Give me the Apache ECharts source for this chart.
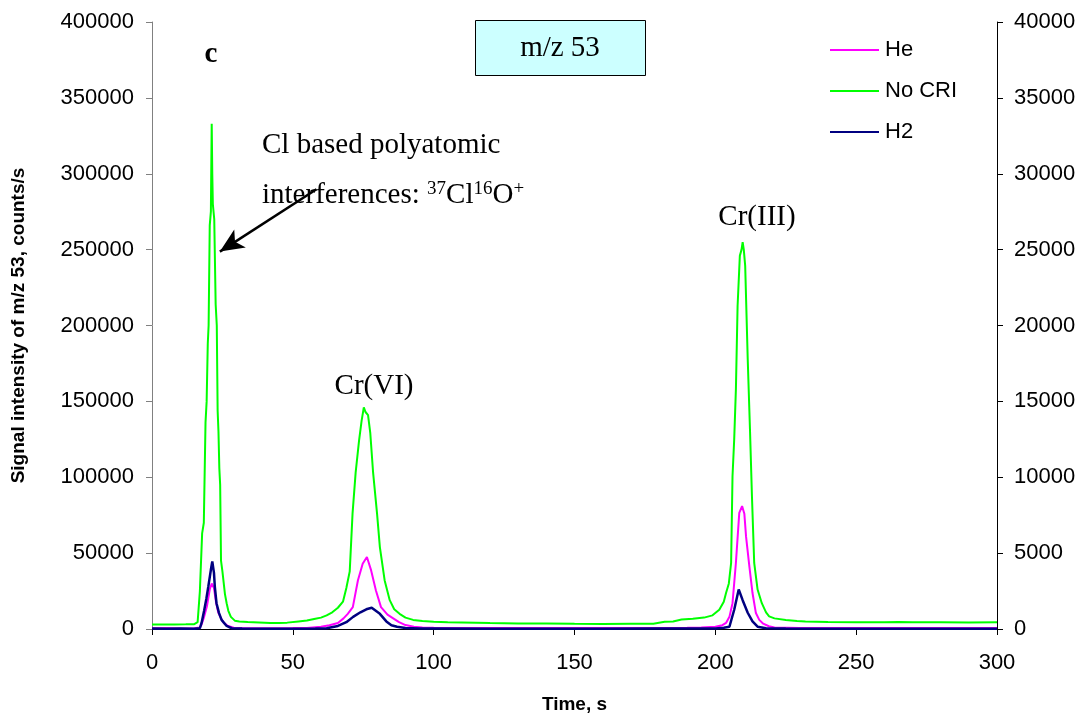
<!DOCTYPE html>
<html>
<head>
<meta charset="utf-8">
<script src="https://cdn.jsdelivr.net/npm/echarts@6/dist/echarts.min.js"></script>
<style>
html,body{margin:0;padding:0;background:#fff;}
#chart{width:1090px;height:721px;}
</style>
</head>
<body>
<div id="chart"></div>
<script>
// Tick values
const xTicks = [0, 50, 100, 150, 200, 250, 300];
const leftTicks = [0, 50000, 100000, 150000, 200000, 250000, 300000, 350000, 400000];
const rightTicks = [0, 5000, 10000, 15000, 20000, 25000, 30000, 35000, 40000];
const legendNames = ['He', 'No CRI', 'H2'];

// No CRI (left axis) [time s, counts/s]
const noCRI = [
  [0,3000],[4,2900],[8,3000],[12,3100],[15,3200],[16.2,4500],[17,25000],[17.8,63000],[18.4,70000],[19.0,136000],
  [19.4,150000],[19.8,188000],[20.1,200000],[20.5,266000],[20.9,275000],[21.2,333000],[21.4,300000],[21.6,280000],
  [22.1,270000],[22.6,214000],[23.0,200000],[23.3,144000],[23.6,130000],[23.9,106000],[24.2,95000],[24.5,45000],
  [25.0,38000],[25.9,23000],[26.5,17000],[27.1,12000],[28.0,8000],[29.4,5500],[31,5000],[34,4600],[38,4300],
  [42,4000],[45,3900],[48,4200],[52,5000],[55,5600],[58,6800],[60,7500],[62,9000],[64,11000],[66,14000],
  [67.8,18000],[69,27000],[70.2,38000],[71.2,76000],[72.3,103000],[73.5,124000],[74.4,137000],[75.2,146000],
  [75.8,143000],[76.7,141000],[77.5,129000],[78.5,103000],[79.9,76000],[80.9,54000],[82.6,32000],[84.4,19000],
  [86,13000],[87.9,10000],[90,7500],[92.7,6000],[96,5300],[100,4800],[105,4500],[110,4300],[115,4100],[120,3900],
  [125,3800],[130,3700],[140,3600],[150,3400],[160,3300],[170,3400],[178,3500],[182,4800],[185,5000],[188,6200],
  [192,6800],[196,7500],[199,9000],[201.4,12700],[203,18000],[203.8,23700],[204.8,30000],[205.6,43500],
  [206.1,100700],[206.7,125000],[207.3,157900],[207.9,212900],[208.7,245900],[209.3,250000],[209.7,255000],
  [210.1,250000],[210.6,239300],[211.5,177700],[212.3,131500],[213,87500],[213.8,43500],[215,26000],[216.5,17000],
  [218,11000],[219.1,8300],[221,7000],[225,6000],[229,5300],[232,5000],[240,4600],[250,4400],[260,4400],
  [265,4600],[270,4400],[280,4400],[290,4300],[300,4400]
];

// He (right axis) [time s, counts/s]
const he = [
  [0,50],[5,60],[10,40],[15,50],[17,100],[17.6,300],[18.5,800],[19.5,1500],[20.5,2600],[21.2,3000],[22,2700],
  [22.7,1800],[23.5,1100],[24.5,700],[25.5,400],[27,200],[29,80],[32,60],[40,50],[50,60],[55,70],[60,150],
  [63,250],[66,400],[68,700],[69.5,1000],[71.3,1440],[73.1,3200],[74.8,4300],[76.3,4740],[77.8,3860],[79.5,2540],
  [81.3,1440],[83.6,950],[85.5,720],[87.7,450],[90,260],[93,150],[96,100],[100,80],[110,70],[120,60],[140,60],
  [160,60],[180,70],[190,80],[195,100],[200,150],[202.5,250],[203.8,400],[205,800],[206.1,1700],[207.3,4350],
  [208.5,7650],[209.5,8100],[210.3,7600],[210.9,6100],[212.1,4100],[213.2,2370],[214.4,1050],[215.6,600],
  [217,350],[219,180],[221,100],[230,70],[250,60],[270,60],[290,60],[300,60]
];

// H2 (right axis) [time s, counts/s]
const h2 = [
  [0,30],[5,20],[10,30],[15,20],[17,50],[17.6,400],[18.5,1200],[19.3,2000],[20.0,2800],[20.9,3900],[21.4,4450],
  [22.0,3700],[22.3,2800],[22.9,1700],[23.8,1050],[24.7,600],[26.5,200],[28.3,50],[32,30],[40,20],[50,20],
  [58,30],[62,50],[66,200],[69,450],[71.4,800],[74,1100],[76.1,1300],[78,1400],[80.9,1000],[83.2,500],[85,250],
  [87,150],[90,60],[95,30],[100,30],[120,20],[140,20],[160,20],[180,30],[195,30],[200,40],[203,80],[205,150],
  [206.7,1270],[208.3,2600],[209.7,1900],[211.5,1070],[213.2,500],[215,150],[218,50],[225,30],[250,20],
  [275,20],[300,20]
];

// Arrow annotation endpoints [time s, counts/s]
const arrowFrom = [58.4, 289800];
const arrowTo = [24.1, 248700];

const chart = echarts.init(document.getElementById('chart'), null, {renderer: 'canvas'});
const sans = 'Liberation Sans, Arial, sans-serif';
const serif = 'Liberation Serif, Times New Roman, serif';
const fmt = v => String(v);

const option = {
  animation: false,
  backgroundColor: '#ffffff',
  grid: {left: 152, right: 93, top: 22, bottom: 92, containLabel: false},
  legend: {
    data: legendNames,
    orient: 'vertical',
    left: 830,
    top: 39,
    itemWidth: 49,
    itemHeight: 2,
    itemGap: 19,
    icon: 'rect',
    padding: 0,
    textStyle: {fontFamily: sans, fontSize: 22, color: '#000', lineHeight: 22, padding: [0,0,0,1]}
  },
  xAxis: {
    type: 'value', min: xTicks[0], max: xTicks[xTicks.length - 1], interval: 50,
    name: 'Time, s', nameLocation: 'middle', nameGap: 66,
    nameTextStyle: {fontFamily: sans, fontSize: 19, fontWeight: 'bold', color: '#000'},
    axisLine: {show: true, onZero: false, lineStyle: {color: '#000', width: 1}},
    axisTick: {show: true, inside: false, length: 6, lineStyle: {color: '#000'}},
    axisLabel: {fontFamily: sans, fontSize: 22, color: '#000', margin: 23, formatter: fmt},
    splitLine: {show: false}
  },
  yAxis: [
    {
      type: 'value', min: leftTicks[0], max: leftTicks[leftTicks.length - 1], interval: 50000,
      name: 'Signal intensity of m/z 53, counts/s', nameLocation: 'middle', nameGap: 124,
      nameTextStyle: {fontFamily: sans, fontSize: 19, fontWeight: 'bold', color: '#000'},
      axisLine: {show: true, lineStyle: {color: '#808080', width: 1}},
      axisTick: {show: true, inside: false, length: 6, lineStyle: {color: '#808080'}},
      axisLabel: {fontFamily: sans, fontSize: 22, color: '#000', margin: 18, formatter: fmt},
      splitLine: {show: false}
    },
    {
      type: 'value', position: 'right', min: rightTicks[0], max: rightTicks[rightTicks.length - 1], interval: 5000,
      axisLine: {show: true, lineStyle: {color: '#000', width: 1}},
      axisTick: {show: true, inside: false, length: 6, lineStyle: {color: '#000'}},
      axisLabel: {fontFamily: sans, fontSize: 22, color: '#000', margin: 17, formatter: fmt},
      splitLine: {show: false}
    }
  ],
  series: [
    {
      name: 'He', type: 'line', yAxisIndex: 1, data: he, showSymbol: false, symbol: 'none',
      lineStyle: {color: '#ff00ff', width: 2}, itemStyle: {color: '#ff00ff'}, z: 2
    },
    {
      name: 'No CRI', type: 'line', yAxisIndex: 0, data: noCRI, showSymbol: false, symbol: 'none',
      lineStyle: {color: '#00ff00', width: 2}, itemStyle: {color: '#00ff00'}, z: 3,
      markLine: {
        silent: true, animation: false,
        symbol: ['none', 'arrow'], symbolSize: [16, 24],
        label: {show: false},
        lineStyle: {color: '#000', width: 2.5, type: 'solid'},
        data: [[{coord: arrowFrom}, {coord: arrowTo}]]
      }
    },
    {
      name: 'H2', type: 'line', yAxisIndex: 1, data: h2, showSymbol: false, symbol: 'none',
      lineStyle: {color: '#000080', width: 2.5}, itemStyle: {color: '#000080'}, z: 4
    }
  ],
  graphic: [
    {type: 'rect', left: 475, top: 20, shape: {width: 170, height: 55},
     style: {fill: '#ccffff', stroke: '#000', lineWidth: 1}, z: 10},
    {type: 'text', x: 560, y: 48, z: 11,
     style: {text: 'm/z 53', font: '29px ' + serif, fill: '#000', textAlign: 'center', textVerticalAlign: 'middle'}},
    {type: 'text', x: 211, y: 55, z: 11,
     style: {text: 'c', font: 'bold 29px ' + serif, fill: '#000', textAlign: 'center', textVerticalAlign: 'middle'}},
    {type: 'text', x: 262, y: 145, z: 11,
     style: {text: 'Cl based polyatomic', font: '29px ' + serif, fill: '#000', textAlign: 'left', textVerticalAlign: 'middle'}},
    {type: 'text', x: 262, y: 180, z: 11,
     style: {
       text: '{n|interferences: }{s|37}{n|Cl}{s|16}{n|O}{s|+}',
       textAlign: 'left', textVerticalAlign: 'top', fill: '#000',
       rich: {
         n: {fontFamily: serif, fontSize: 29, lineHeight: 30, verticalAlign: 'bottom', fill: '#000'},
         s: {fontFamily: serif, fontSize: 19, lineHeight: 19, verticalAlign: 'top', fill: '#000'}
       }
     }},
    {type: 'text', x: 374, y: 386, z: 11,
     style: {text: 'Cr(VI)', font: '29px ' + serif, fill: '#000', textAlign: 'center', textVerticalAlign: 'middle'}},
    {type: 'text', x: 757, y: 217, z: 11,
     style: {text: 'Cr(III)', font: '29px ' + serif, fill: '#000', textAlign: 'center', textVerticalAlign: 'middle'}}
  ]
};
chart.setOption(option);
</script>
</body>
</html>
